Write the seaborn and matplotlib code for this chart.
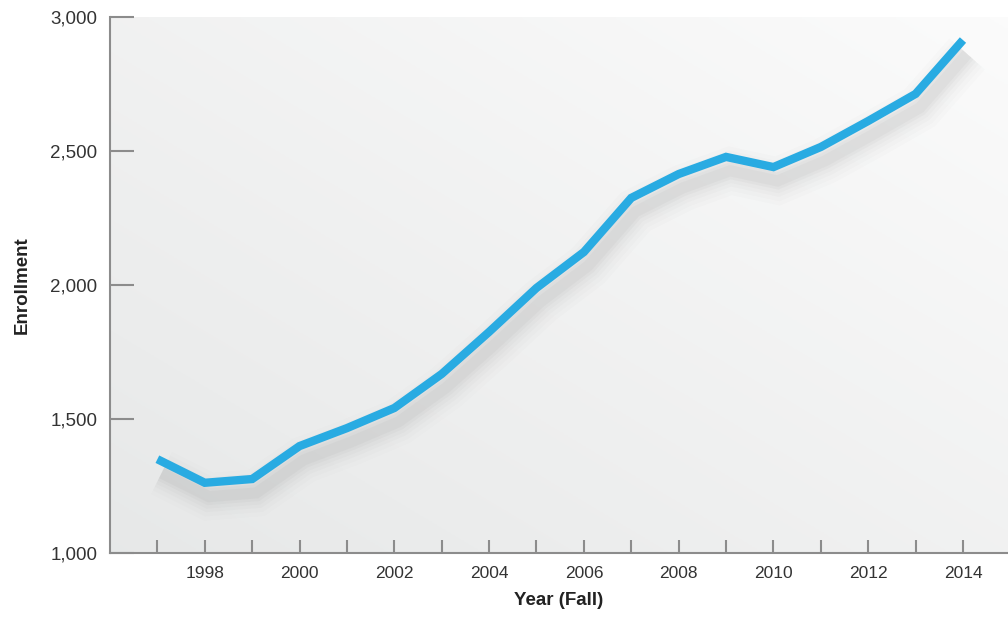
import numpy as np
import pandas as pd
import seaborn as sns
import matplotlib.pyplot as plt
import matplotlib.patheffects as pe

years = [1997, 1998, 1999, 2000, 2001, 2002, 2003, 2004, 2005,
         2006, 2007, 2008, 2009, 2010, 2011, 2012, 2013, 2014]
enrollment = [1350, 1262, 1276, 1399, 1466, 1541, 1668, 1825, 1989,
              2123, 2325, 2414, 2478, 2440, 2515, 2612, 2713, 2914]
y_ticks = [1000, 1500, 2000, 2500, 3000]
x_label_years = list(range(1998, 2015, 2))

df = pd.DataFrame({"year": years, "enrollment": enrollment})

sns.set_style("white")
plt.rcParams['font.family'] = ['Liberation Sans Narrow', 'Liberation Sans', 'DejaVu Sans']

fig = plt.figure(figsize=(10.08, 6.28), dpi=100)
ax = fig.add_axes([110 / 1008, 75 / 628, 898 / 1008, 536 / 628])

# soft gradient background, darker bottom-left to lighter top-right
gx, gy = np.meshgrid(np.linspace(0, 1, 200), np.linspace(0, 1, 200))
grad = 0.5 * gx + 0.5 * gy
lo = np.array([0.905, 0.910, 0.910])
hi = np.array([0.985, 0.985, 0.985])
img = lo + grad[..., None] * (hi - lo)
ax.imshow(img, extent=[0, 1, 0, 1], transform=ax.transAxes, origin='lower',
          aspect='auto', zorder=0)

# blurred drop shadow built from stacked translucent strokes
shadow = []
for lw, a in [(34, 0.012), (28, 0.016), (22, 0.02), (17, 0.025), (12, 0.03), (8, 0.035)]:
    shadow.append(pe.SimpleLineShadow(offset=(3, -10), shadow_color='#444444',
                                      alpha=a, linewidth=lw))
shadow.append(pe.Normal())

sns.lineplot(data=df, x="year", y="enrollment", ax=ax, color='#29abe2',
             linewidth=6, zorder=3, solid_joinstyle='miter', solid_capstyle='butt')
ax.lines[0].set_path_effects(shadow)

ax.set_xlim(1996, 2014.95)
ax.set_ylim(1000, 3000)
ax.set_yticks(y_ticks)
ax.set_yticklabels([f"{v:,}" for v in y_ticks])
ax.set_xticks(x_label_years)
ax.set_xticks(years, minor=True)

for s in ['top', 'right']:
    ax.spines[s].set_visible(False)
for s in ['left', 'bottom']:
    ax.spines[s].set_color('#8c8c8c')
    ax.spines[s].set_linewidth(1.5)
    ax.spines[s].set_zorder(4)

ax.tick_params(axis='y', left=True, direction='in', length=17, width=1.5, color='#8c8c8c',
               labelsize=13.5, labelcolor='#333333', pad=9)
ax.tick_params(axis='x', which='both', bottom=True, direction='in', length=9.5, width=1.5,
               color='#8c8c8c', labelsize=12.5, labelcolor='#333333', pad=9)

ax.set_xlabel("Year (Fall)", fontsize=13.5, fontweight='bold', color='#222222', labelpad=8)
ax.set_ylabel("Enrollment", fontsize=13.5, fontweight='bold', color='#222222', labelpad=14)
ax.grid(False)

fig.savefig("out.png", dpi=100)
